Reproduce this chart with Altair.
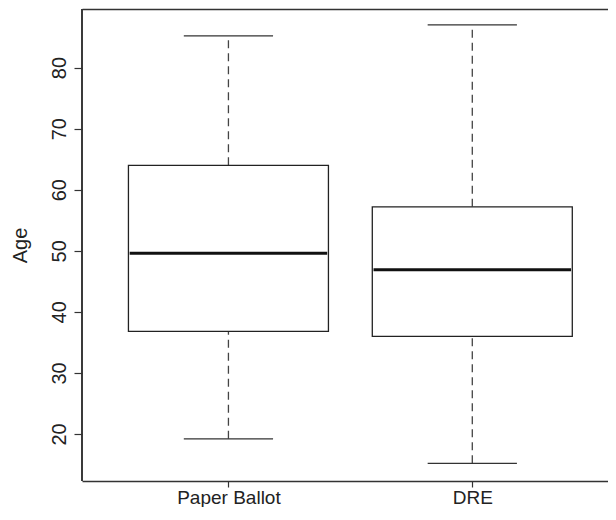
import altair as alt
import pandas as pd

groups = ["Paper Ballot", "DRE"]
positions = [1, 2]
lower = [19.2, 15.2]
q1 = [36.8, 36.0]
median = [49.6, 46.9]
q3 = [64.0, 57.2]
upper = [85.2, 87.0]

y_ticks = [20, 30, 40, 50, 60, 70, 80]

df = pd.DataFrame({
    "group": groups, "pos": positions, "lower": lower, "q1": q1,
    "median": median, "q3": q3, "upper": upper,
})

W, H = 526, 472
FONT = "Liberation Sans"
INK = "#222222"

label_expr = " : ".join(
    f"datum.value == {p} ? '{g}'" for p, g in zip(positions[:-1], groups[:-1])
) + f" : '{groups[-1]}'"

xscale = alt.Scale(domain=[0.42, 2.536], nice=False, zero=False)
yscale = alt.Scale(domain=[12.3, 89.6], nice=False, zero=False)

xaxis = alt.Axis(
    values=positions, labelExpr=label_expr, title=None, grid=False,
    tickSize=6, tickColor="#333333", tickWidth=1.2,
    domainColor="#333333", domainWidth=1.6,
    labelFont=FONT, labelFontSize=19, labelColor=INK, labelPadding=1,
    labelBaseline="top",
)
top_axis = alt.Axis(
    orient="top", labels=False, ticks=False, grid=False, title=None,
    domainColor="#333333", domainWidth=1.6,
)
yaxis = alt.Axis(
    values=y_ticks, title="Age", grid=False, domain=False,
    tickSize=8, tickColor="#333333", tickWidth=1.2,
    labelFont=FONT, labelFontSize=20, labelColor=INK,
    labelAngle=270, labelAlign="center", labelBaseline="bottom", labelPadding=5,
    titleFont=FONT, titleFontSize=20, titleColor=INK, titleFontWeight="normal",
    titleAngle=270, titleAlign="center", titleBaseline="middle",
    titleX=-62, titleY=H / 2,
)

base = alt.Chart(df)

whisk_hi = base.mark_rule(color="#444444", strokeWidth=1.3, strokeDash=[8, 5]).encode(
    x=alt.X("pos:Q", scale=xscale, axis=xaxis),
    y=alt.Y("q3:Q", scale=yscale, axis=yaxis),
    y2="upper:Q",
)
whisk_lo = base.mark_rule(color="#444444", strokeWidth=1.3, strokeDash=[8, 5]).encode(
    x="pos:Q", y="lower:Q", y2="q1:Q",
)

caps = base.transform_calculate(
    cl="datum.pos - 0.183", cr="datum.pos + 0.183"
)
cap_hi = caps.mark_rule(color="#333333", strokeWidth=1.3).encode(
    x="cl:Q", x2="cr:Q", y="upper:Q"
)
cap_lo = caps.mark_rule(color="#333333", strokeWidth=1.3).encode(
    x="cl:Q", x2="cr:Q", y="lower:Q"
)

box = base.mark_bar(fill="white", stroke="#222222", strokeWidth=1.3, size=200).encode(
    x="pos:Q", y="q1:Q", y2="q3:Q"
)

med = base.transform_calculate(
    ml="datum.pos - 0.405", mr="datum.pos + 0.405"
).mark_rule(color="#111111", strokeWidth=3).encode(
    x="ml:Q", x2="mr:Q", y="median:Q"
)

left_frame = base.mark_rule(color="#333333", strokeWidth=1.6).encode(
    x=alt.value(0), y=alt.value(0), y2=alt.value(H)
)

main = alt.layer(whisk_hi, whisk_lo, cap_hi, cap_lo, box, med, left_frame)

top_layer = base.mark_point(opacity=0).encode(
    x=alt.X("pos:Q", scale=xscale, axis=top_axis),
    y=alt.Y("median:Q", scale=yscale, axis=yaxis),
)

chart = alt.layer(main, top_layer).resolve_axis(x="independent").properties(
    width=W, height=H,
    autosize="none",
    padding={"left": 74, "top": 1, "right": 0, "bottom": 26},
).configure(
    background="white",
    view=alt.ViewConfig(stroke="transparent", strokeWidth=0),
)

chart.save("out.html", embed_options={"renderer": "svg", "actions": False})
